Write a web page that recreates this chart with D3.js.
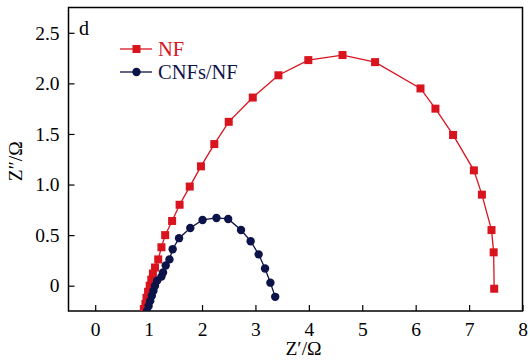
<!DOCTYPE html>
<html><head><meta charset="utf-8">
<script src="https://cdn.jsdelivr.net/npm/d3@7"></script>
<style>body{margin:0;background:#fff}svg{display:block}</style>
</head><body>
<svg id="c" width="530" height="360"></svg>
<script>
const nfX = [0.91,0.94,0.96,0.99,1.02,1.05,1.08,1.12,1.18,1.24,1.31,1.44,1.58,1.77,1.98,2.23,2.50,2.95,3.43,3.99,4.63,5.24,6.09,6.37,6.70,7.09,7.24,7.42,7.46,7.47];
const nfY = [-0.23,-0.18,-0.12,-0.06,0.00,0.06,0.12,0.18,0.26,0.38,0.50,0.64,0.80,0.98,1.18,1.40,1.62,1.86,2.08,2.23,2.28,2.21,1.95,1.75,1.49,1.14,0.90,0.55,0.33,-0.03];
const cnfX = [0.97,1.00,1.03,1.06,1.09,1.12,1.16,1.24,1.27,1.32,1.39,1.45,1.57,1.78,2.01,2.27,2.49,2.73,2.91,3.06,3.18,3.28,3.37];
const cnfY = [-0.25,-0.20,-0.15,-0.10,-0.05,0.00,0.05,0.09,0.13,0.20,0.26,0.36,0.47,0.57,0.65,0.67,0.66,0.55,0.44,0.31,0.17,0.03,-0.11];
const xTicks = [0,1,2,3,4,5,6,7,8];
const yTicks = [0,0.5,1.0,1.5,2.0,2.5];
const yTickLabels = ["0","0.5","1.0","1.5","2.0","2.5"];
const seriesNames = ["NF","CNFs/NF"];
const panelLabel = "d";

const svg = d3.select("#c");
const L=68.5, R=522.5, T=7.5, B=311;
const x = d3.scaleLinear().domain([-0.5,8]).range([L,R]);
const y = d3.scaleLinear().domain([-0.25,2.75]).range([B,T]);
const font = "'Liberation Serif','Times New Roman',serif";
const red="#d9141e", navy="#0c1348";

svg.append("defs").append("clipPath").attr("id","clip")
  .append("rect").attr("x",L).attr("y",T).attr("width",R-L).attr("height",B-T);

// axes
const xAxis = d3.axisBottom(x).tickValues(xTicks).tickSize(-6).tickPadding(11).tickFormat(d3.format("d"));
const gx = svg.append("g").attr("transform",`translate(0,${B})`).call(xAxis);
const yAxis = d3.axisLeft(y).tickValues(yTicks).tickSize(-6).tickPadding(9).tickFormat((d,i)=>yTickLabels[i]);
const gy = svg.append("g").attr("transform",`translate(${L},0)`).call(yAxis);
[gx,gy].forEach(g=>{
  g.select(".domain").remove();
  g.selectAll(".tick line").attr("stroke","#000").attr("stroke-width",1.2);
  g.selectAll(".tick text").attr("font-family",font).attr("font-size",19.5).attr("fill","#000");
});
gx.selectAll(".tick text").attr("dy","0.71em");
svg.append("rect").attr("x",L).attr("y",T).attr("width",R-L).attr("height",B-T)
  .attr("fill","none").attr("stroke","#000").attr("stroke-width",1.5);

// titles
svg.append("text").attr("x",(L+R)/2+8).attr("y",355).attr("text-anchor","middle")
  .attr("font-family",font).attr("font-size",19.5).text("Z′/Ω");
svg.append("text").attr("transform",`translate(22,${(T+B)/2+2}) rotate(-90)`).attr("text-anchor","middle")
  .attr("font-family",font).attr("font-size",19.5).text("Z″/Ω");
svg.append("text").attr("x",79).attr("y",35).attr("font-family",font).attr("font-size",20).text(panelLabel);

// series
const line = d3.line().x(d=>x(d[0])).y(d=>y(d[1]));
const plot = svg.append("g").attr("clip-path","url(#clip)");
const nf = nfX.map((v,i)=>[v,nfY[i]]);
const cnf = cnfX.map((v,i)=>[v,cnfY[i]]);
plot.append("path").datum(nf).attr("d",line).attr("fill","none").attr("stroke",red).attr("stroke-width",1.3);
plot.selectAll(".sq").data(nf).join("rect").attr("x",d=>x(d[0])-4).attr("y",d=>y(d[1])-4)
  .attr("width",8).attr("height",8).attr("fill",red);
plot.append("path").datum(cnf).attr("d",line).attr("fill","none").attr("stroke",navy).attr("stroke-width",1.3);
plot.selectAll(".ci").data(cnf).join("circle").attr("cx",d=>x(d[0])).attr("cy",d=>y(d[1]))
  .attr("r",4.2).attr("fill",navy);

// legend
const lg = svg.append("g");
const items = [{n:seriesNames[0],c:red,m:"sq",y:49},{n:seriesNames[1],c:navy,m:"ci",y:72}];
items.forEach(it=>{
  lg.append("line").attr("x1",120).attr("x2",152).attr("y1",it.y).attr("y2",it.y).attr("stroke",it.c).attr("stroke-width",1.3);
  if(it.m==="sq") lg.append("rect").attr("x",132.5).attr("y",it.y-4).attr("width",8).attr("height",8).attr("fill",it.c);
  else lg.append("circle").attr("cx",136.5).attr("cy",it.y).attr("r",4.2).attr("fill",it.c);
  lg.append("text").attr("x",158).attr("y",it.y+6.5).attr("font-family",font).attr("font-size",20.5).attr("fill",it.c).text(it.n);
});
</script>
</body></html>
